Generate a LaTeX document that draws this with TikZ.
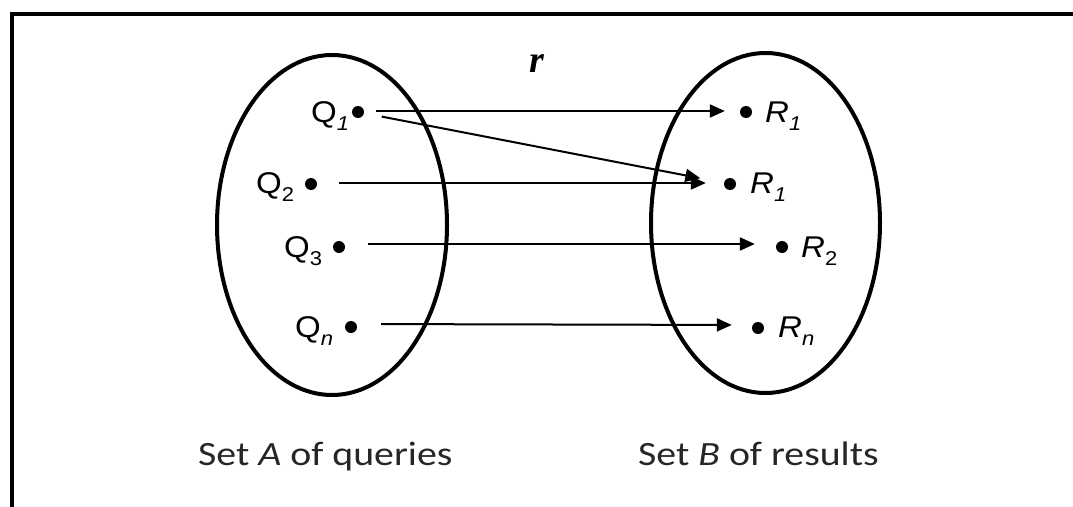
\documentclass[tikz,border=0pt]{standalone}
\usepackage{fontspec}
\usepackage{graphicx}
\setmainfont{Carlito}
\newfontfamily\arialf{Liberation Sans}
\newfontfamily\timesf{Liberation Serif}
\usetikzlibrary{arrows.meta,shapes.geometric}
\newcommand\mysub[1]{\raisebox{-8pt}{\fontsize{20}{20}\selectfont #1}}
\newcommand\wideQ[1]{\scalebox{1.1}[1]{#1}}
\newcommand\wideT[1]{\scalebox{1.17}[1]{#1}}
\tikzset{
  setshape/.style={draw, ellipse, line width=4pt, inner sep=0pt},
  dotnode/.style={circle, fill=black, inner sep=0pt, minimum size=12pt},
  ptlab/.style={anchor=base west, inner sep=0pt, font=\arialf\fontsize{30}{30}\selectfont},
  setlab/.style={anchor=base west, inner sep=0pt, font=\fontsize{34}{34}\selectfont, text=black!85},
  arr/.style={line width=2pt, -{Triangle[length=15pt,width=13pt]}}
}
\begin{document}
\begin{tikzpicture}[x=1pt,y=1pt]
\useasboundingbox (0,0) rectangle (1073,-506);
% frame
\draw[line width=4pt] (12,-520) -- (12,-14) -- (1085,-14);
% sets
\node[setshape, minimum width=230pt, minimum height=340pt] (A) at (332,-225) {};
\node[setshape, minimum width=229pt, minimum height=340pt] (B) at (765.5,-223) {};
% dots
\node[dotnode] (q1) at (358,-112) {};
\node[dotnode] (q2) at (311,-184) {};
\node[dotnode] (q3) at (339,-247) {};
\node[dotnode] (qn) at (351,-327) {};
\node[dotnode] (r1) at (746,-112) {};
\node[dotnode] (r1b) at (730,-184) {};
\node[dotnode] (r2) at (782,-247) {};
\node[dotnode] (rn) at (758,-328) {};
% labels
\node[ptlab] (lq1) at (311,-122) {\wideQ{Q\mysub{\itshape 1}}};
\node[ptlab] (lq2) at (256,-193) {\wideQ{Q\mysub{2}}};
\node[ptlab] (lq3) at (284,-257) {\wideQ{Q\mysub{3}}};
\node[ptlab] (lqn) at (295,-337) {\wideQ{Q\mysub{\itshape n}}};
\node[ptlab] (lr1) at (765,-122) {\wideQ{\itshape R\mysub{1}}};
\node[ptlab] (lr1b) at (750,-193) {\wideQ{\itshape R\mysub{1}}};
\node[ptlab] (lr2) at (801,-257) {\wideQ{\itshape R\mysub{\upshape 2}}};
\node[ptlab] (lrn) at (778,-337) {\wideQ{\itshape R\mysub{n}}};
\node[font=\timesf\bfseries\itshape\fontsize{38}{38}\selectfont, inner sep=0pt] (rel) at (537,-64) {r};
% set labels
\node[setlab] (la) at (198,-465) {\wideT{Set \textit{A} of queries}};
\node[setlab] (lb) at (638,-465) {\wideT{Set \textit{B} of results}};
% arrows
\draw[arr, shorten <=12pt, shorten >=15pt] ([yshift=1pt]q1.east) -- ([yshift=1pt]r1.west);
\draw[arr, shorten <=18pt, shorten >=24pt] (q1) -- (r1b);
\draw[arr, shorten <=22pt, shorten >=18pt] ([yshift=1pt]q2.east) -- ([yshift=1pt]r1b.west);
\draw[arr, shorten <=23pt, shorten >=21pt] ([yshift=3pt]q3.east) -- ([yshift=3pt]r2.west);
\draw[arr, shorten <=24pt, shorten >=20pt] ([yshift=3pt]qn.east) -- ([yshift=3pt]rn.west);
\end{tikzpicture}
\end{document}
